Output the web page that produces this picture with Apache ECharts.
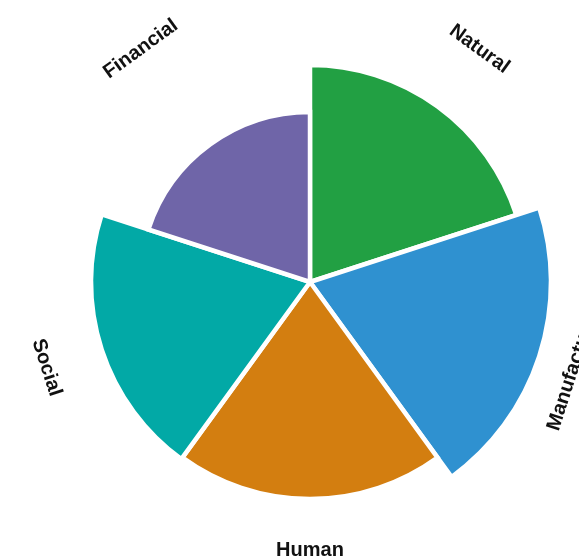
<!DOCTYPE html>
<html>
<head>
<meta charset="utf-8">
<script src="https://cdn.jsdelivr.net/npm/echarts@6/dist/echarts.min.js"></script>
<style>html,body{margin:0;padding:0;background:#fff}#c{width:579px;height:560px}</style>
</head>
<body>
<div id="c"></div>
<script>
// ---- data ----
var categories = ['Natural', 'Manufactured', 'Human', 'Social', 'Financial'];
var values = [217, 241, 217, 219, 170];
var colors = ['#22a043', '#2f91d0', '#d37e10', '#02a9a6', '#6f65a8'];
// label distance from centre (in radius-axis units)
var labelRadius = [288, 277, 268, 277, 288];

var chart = echarts.init(document.getElementById('c'), null, {renderer: 'canvas'});

var barData = values.map(function (v, i) {
  return {value: v, itemStyle: {color: colors[i]}};
});
var labelData = categories.map(function (c, i) { return [labelRadius[i], i]; });

chart.setOption({
  animation: false,
  backgroundColor: '#ffffff',
  polar: {center: [310, 282], radius: 300},
  angleAxis: {
    type: 'category',
    data: categories,
    startAngle: 90,
    clockwise: true,
    axisLine: {show: false},
    axisTick: {show: false},
    axisLabel: {show: false},
    splitLine: {show: false}
  },
  radiusAxis: {
    type: 'value',
    min: 0,
    max: 300,
    axisLine: {show: false},
    axisTick: {show: false},
    axisLabel: {show: false},
    splitLine: {show: false}
  },
  series: [
    {
      type: 'bar',
      coordinateSystem: 'polar',
      data: barData,
      barCategoryGap: '0%',
      itemStyle: {borderColor: '#ffffff', borderWidth: 4.5, borderJoin: 'miter'},
      z: 2
    },
    {
      type: 'custom',
      coordinateSystem: 'polar',
      data: labelData,
      silent: true,
      z: 3,
      renderItem: function (params, api) {
        var idx = api.value(1);
        var pt = api.coord([api.value(0), idx]);
        var cs = params.coordSys;
        var dx = pt[0] - cs.cx, dy = pt[1] - cs.cy;
        // angle clockwise from top
        var theta = Math.atan2(dx, -dy);
        if (theta < 0) theta += 2 * Math.PI;
        var rot;
        if (theta < Math.PI / 2 || theta > 3 * Math.PI / 2) {
          rot = -theta;
        } else {
          rot = Math.PI - theta;
        }
        return {
          type: 'text',
          x: pt[0],
          y: pt[1],
          rotation: rot,
          style: {
            text: categories[idx],
            fill: '#111111',
            font: 'bold 20px "Liberation Sans", Arial, sans-serif',
            align: 'center',
            verticalAlign: 'middle'
          }
        };
      }
    }
  ]
});
</script>
</body>
</html>
